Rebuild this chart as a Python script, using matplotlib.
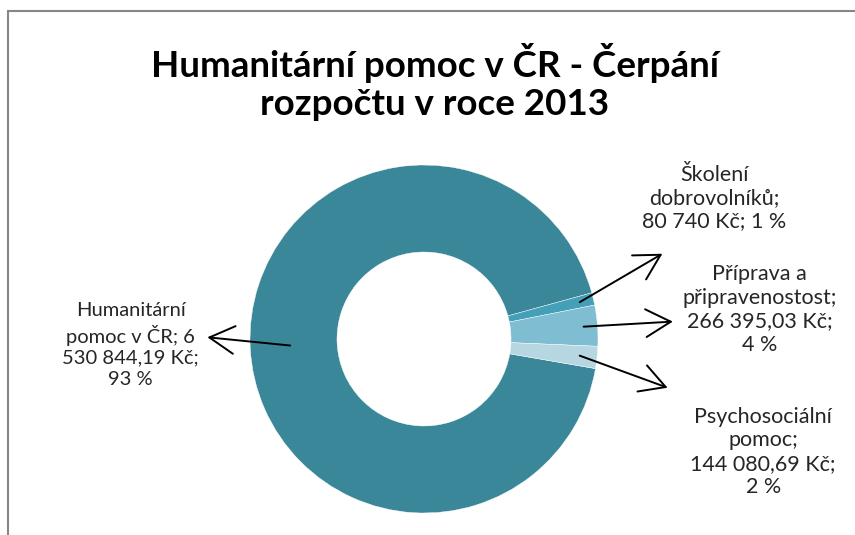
import numpy as np
import matplotlib
matplotlib.use("Agg")
import matplotlib.pyplot as plt
from matplotlib.patches import Rectangle

plt.rcParams["font.family"] = ["Lato", "DejaVu Sans"]

# data (Kč)
categories = ["Humanitární pomoc v ČR", "Školení dobrovolníků",
              "Příprava a připravenostost", "Psychosociální pomoc"]
values = [6530844.19, 80740.0, 266395.03, 144080.69]
label_texts = [
    "Humanitární\npomoc v ČR; 6\n530 844,19 Kč;\n93 %",
    "Školení\ndobrovolníků;\n80 740 Kč; 1 %",
    "Příprava a\npřipravenostost;\n266 395,03 Kč;\n4 %",
    "Psychosociální\npomoc;\n144 080,69 Kč;\n2 %",
]
colors = ["#3A8799", "#44A0B8", "#7FBDD3", "#B6D7E2"]

# label layout (axes units, radius = 1)
text_pos = [(-1.685, -0.035), (1.67, 0.81), (1.93, 0.17), (1.95, -0.65)]
head_pos = [(-1.245, 0.01), (1.37, 0.49), (1.43, 0.10), (1.40, -0.28)]
font_sizes = [14.5, 15.5, 15.5, 15.5]
start_r = [0.77, 0.92, 0.92, 0.90]

W, H = 855, 535
fig = plt.figure(figsize=(W / 100, H / 100), dpi=100)
cx, cy, R = 424, 339, 174
ax = fig.add_axes([(cx - R) / W, (H - cy - R) / H, 2 * R / W, 2 * R / H])

wedges, _ = ax.pie(values, colors=colors, startangle=-9.8, counterclock=False,
                   radius=1.0, wedgeprops=dict(width=0.5, edgecolor="white", linewidth=0.3))
ax.set_xlim(-1, 1)
ax.set_ylim(-1, 1)
ax.set_aspect("equal")
ax.axis("off")

for w, txt, tp, hp, r, fs in zip(wedges, label_texts, text_pos, head_pos, start_r, font_sizes):
    ang = np.deg2rad((w.theta1 + w.theta2) / 2)
    start = (r * np.cos(ang), r * np.sin(ang))
    ax.annotate("", xy=hp, xytext=start, annotation_clip=False,
                arrowprops=dict(arrowstyle="->,head_length=0.9,head_width=0.5",
                                color="black", lw=1.4, mutation_scale=20,
                                shrinkA=0, shrinkB=0))
    ax.text(tp[0], tp[1], txt, ha="center", va="center", fontsize=fs,
            color="#262626", linespacing=1.3 if fs < 15 else 1.22)

fig.text(435 / W, 1 - 82 / H, "Humanitární pomoc v ČR - Čerpání\nrozpočtu v roce 2013",
         ha="center", va="center", fontsize=26.5, fontweight="bold", color="black",
         linespacing=1.18)

# chart area border (cropped on the right and bottom)
fig.add_artist(Rectangle((8 / W, -0.1), 1.2, 1.1 - 11 / H, transform=fig.transFigure,
                         fill=False, edgecolor="#868686", linewidth=1.5))

fig.savefig("out.png", dpi=100)
